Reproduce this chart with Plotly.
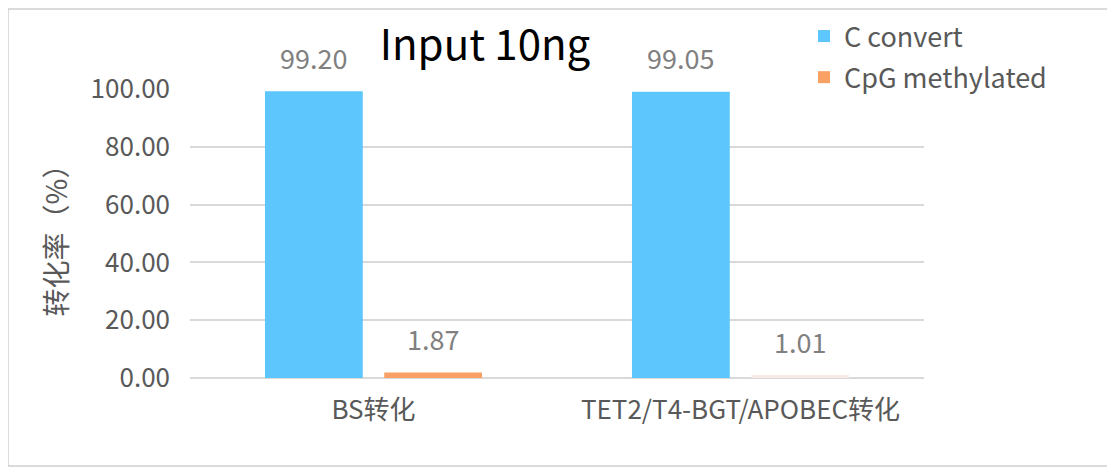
import plotly.graph_objects as go

categories = ["BS转化", "TET2/T4-BGT/APOBEC转化"]
c_convert = [99.20, 99.05]
cpg_methylated = [1.87, 1.01]
series_names = ["C convert", "CpG methylated"]
title_text = "Input 10ng"
y_title = "转化率（%）"

FONT = "Noto Sans CJK SC"
GRAY = "#595959"
LABEL_GRAY = "#808080"

# page body has an 8px margin, so the figure is 8px smaller than the window
W, H = 1107, 466
L, R, T, B = 182, 191, 81, 96
pw, ph = W - L - R, H - T - B

BARGAP = 0.35
BARGROUPGAP = 0.18

fig = go.Figure()
fig.add_trace(go.Bar(
    x=categories, y=c_convert, name=series_names[0], legendgroup="a",
    marker=dict(color="#5cc6fd", line=dict(width=0)),
))
fig.add_trace(go.Bar(
    x=categories, y=cpg_methylated, name=series_names[1], legendgroup="b",
    marker=dict(color=["#f9a064", "#f7ebe8"], line=dict(width=0)),
))

# value labels above each bar (offset computed from the bar grouping)
slot = (1 - BARGAP) / 2
annotations = []
for si, vals in enumerate([c_convert, cpg_methylated]):
    off = -slot / 2 + si * slot
    for ci, v in enumerate(vals):
        annotations.append(dict(
            x=ci + off, y=v, xref="x", yref="y", text=f"{v:.2f}",
            showarrow=False, yanchor="middle", yshift=34,
            font=dict(family=FONT, size=27, color=LABEL_GRAY)))


def px2paper_x(px):
    return (px - L) / pw


def px2paper_y(py):
    return (H - B - py) / ph


x0, x1 = px2paper_x(0), px2paper_x(1100)
y0, y1 = px2paper_y(458), px2paper_y(1)

fig.update_layout(
    width=W, height=H,
    margin=dict(l=L, r=R, t=T, b=B, autoexpand=False),
    paper_bgcolor="white", plot_bgcolor="white",
    barmode="group", bargap=BARGAP, bargroupgap=BARGROUPGAP,
    font=dict(family=FONT, color=GRAY),
    title=dict(text=title_text, x=px2paper_x(477), xref="paper", xanchor="center",
               y=1 - 37 / H, yref="container", yanchor="middle",
               font=dict(family=FONT, size=42, color="#000000")),
    legend=dict(x=px2paper_x(796), y=px2paper_y(4), xanchor="left", yanchor="top",
                font=dict(family=FONT, size=27, color=GRAY), tracegroupgap=3,
                traceorder="grouped", itemwidth=30, bgcolor="rgba(0,0,0,0)"),
    showlegend=True,
    annotations=annotations,
    shapes=[dict(type="rect", xref="paper", yref="paper", x0=x0, x1=x1, y0=y0, y1=y1,
                 line=dict(color="#d0d0d0", width=1.5), layer="below")],
)
fig.update_yaxes(range=[0, 100], dtick=20, tickformat=".2f", showgrid=True,
                 gridcolor="#d9d9d9", gridwidth=1.5, zeroline=True, zerolinecolor="#d9d9d9",
                 zerolinewidth=1.5, tickfont=dict(family=FONT, size=26, color=GRAY),
                 ticklabelstandoff=19,
                 title=dict(text=y_title, font=dict(family=FONT, size=28, color=GRAY), standoff=14))
fig.update_xaxes(showline=False, tickfont=dict(family=FONT, size=26, color=GRAY),
                 ticklabelstandoff=14)

fig.write_html("out.html")
